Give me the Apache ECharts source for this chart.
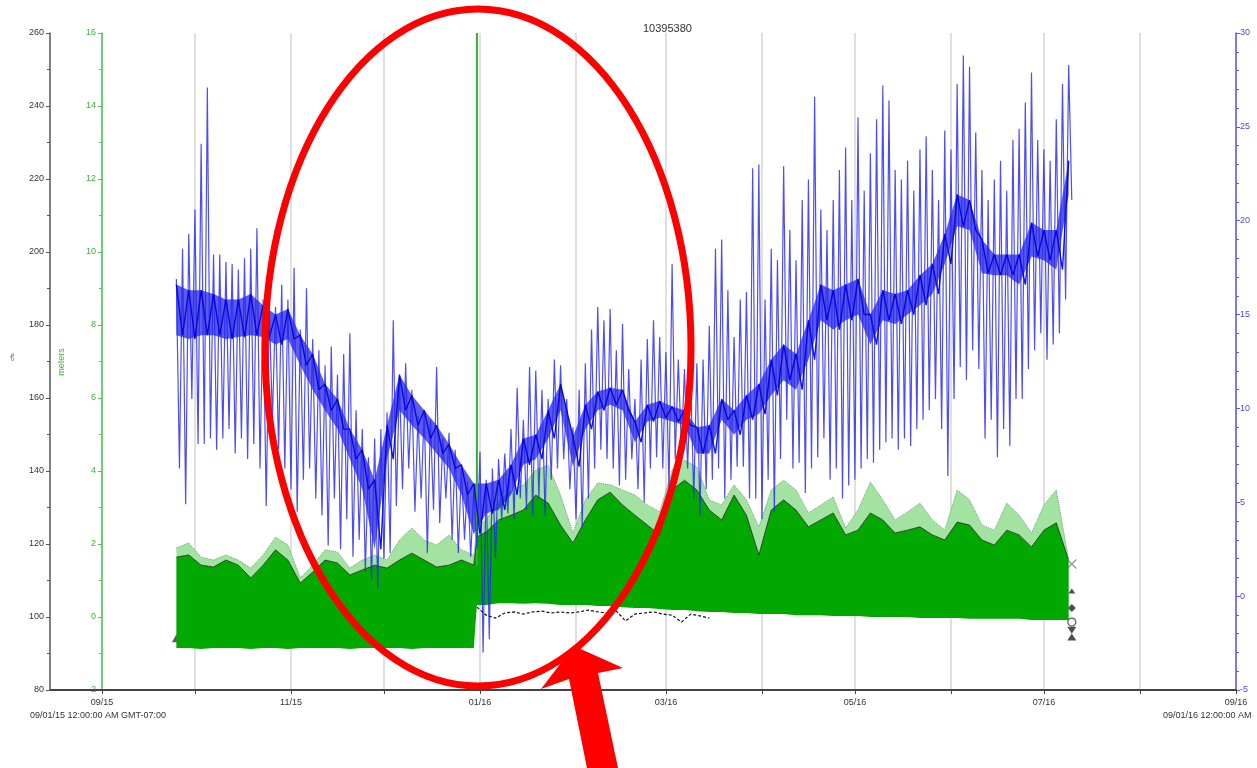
<!DOCTYPE html>
<html>
<head>
<meta charset="utf-8">
<script src="https://cdn.jsdelivr.net/npm/echarts@6.0.0/dist/echarts.min.js"></script>
<style>
html,body{margin:0;padding:0;background:#fff;}
#chart{width:1257px;height:768px;}
</style>
</head>
<body>
<div id="chart"></div>
<script>
// ---------- axis ticks (day index counted from 2015-09-01) ----------
const tickDays   = [0, 61, 122, 182, 243, 304, 366];
const tickLabels = ['09/15', '11/15', '01/16', '03/16', '05/16', '07/16', '09/16'];
const gridDays   = [0, 30, 61, 91, 122, 153, 182, 213, 243, 274, 304, 335, 366];

// ---------- blue series (right axis), one max/min pair every 2 days from day 24 ----------
const BLUE_FIRST_DAY = 24;
const blueMax = [
 16.9,18.5,19.3,20.6,24.1,27.1,18.2,18.2,17.8,17.7,
 17.4,18.0,18.5,19.6,15.8,15.3,15.4,16.6,15.8,17.5,
 14.2,16.4,13.7,13.1,12.3,13.3,11.8,12.9,14.0,9.9,
 8.9,7.4,8.4,8.9,9.8,14.7,11.5,12.4,11.0,9.6,
 9.9,9.4,12.2,8.4,8.7,7.8,6.8,6.1,5.7,7.7,
 6.2,6.8,7.3,7.6,8.9,11.1,9.4,12.2,12.0,11.0,
 10.5,12.6,12.3,10.5,9.0,11.0,12.4,14.2,15.4,14.7,
 15.3,13.1,14.5,12.1,10.5,12.6,13.7,14.7,13.8,13.0,
 17.7,12.6,12.1,11.5,12.4,12.6,14.4,18.5,19.0,16.3,
 13.8,15.8,16.2,22.8,23.0,15.8,18.5,17.9,22.9,19.5,
 17.9,21.1,22.2,26.6,20.6,19.5,21.1,22.7,23.9,21.1,
 25.5,21.6,23.6,25.4,27.2,26.4,22.7,22.2,23.2,21.6,
 23.8,24.5,22.7,21.1,24.8,23.8,27.3,28.8,28.2,24.7,
 22.7,21.1,22.2,23.2,21.6,24.3,24.9,26.3,27.9,24.3,
 23.8,23.2,25.4,27.3,28.3
];
const blueMin = [
 6.8,4.9,10.5,8.1,8.1,8.4,7.8,8.4,8.9,7.6,
 8.4,7.3,8.1,6.8,4.8,9.4,7.8,6.8,5.7,4.5,
 6.2,6.8,5.2,4.3,2.7,5.2,2.5,4.1,2.1,3.0,
 1.3,0.9,0.4,2.0,2.3,4.8,5.7,6.8,4.5,5.2,
 2.3,4.6,3.9,5.2,3.0,2.3,3.0,2.1,2.5,-3.0,
 -2.3,2.0,4.1,4.4,4.1,5.2,4.6,4.3,5.2,4.3,
 6.2,6.8,7.3,5.7,4.1,3.7,5.2,6.8,7.8,7.3,
 6.8,5.9,6.2,7.3,5.7,5.0,6.8,7.4,6.8,5.7,
 7.3,7.8,6.8,5.2,4.3,5.7,6.2,6.8,5.2,6.2,
 6.9,6.9,5.2,5.2,4.1,6.2,4.5,7.3,9.4,6.8,
 7.1,5.5,6.8,7.4,8.4,6.2,6.8,5.2,5.9,6.2,
 6.8,7.3,7.1,7.8,8.2,8.4,7.8,8.4,8.0,8.9,
 9.4,9.9,10.5,8.9,6.4,10.5,12.2,11.5,13.1,12.1,
 8.4,9.4,7.4,8.9,8.0,10.5,10.5,12.1,13.1,14.0,
 12.6,13.4,14.0,15.8,21.1
];
// dense band of the blue trace (upper / lower edge), every 4 days from day 24
const blueBandTop = [
 16.6,16.3,16.3,16.1,15.8,15.8,16.1,15.5,15.0,15.3,
 13.9,12.9,11.3,10.5,8.9,7.8,6.2,9.1,11.8,10.7,
 9.9,9.1,8.1,7.0,6.0,6.0,6.2,7.0,8.4,8.6,
 9.9,11.3,8.5,10.2,10.9,11.1,11.0,9.3,10.2,10.4,
 10.1,9.9,9.0,9.1,10.5,9.9,10.7,11.3,12.6,13.4,
 12.9,14.7,16.6,16.3,16.6,16.9,15.0,16.3,16.1,16.3,
 17.1,17.7,19.3,21.4,21.1,19.0,18.2,18.2,18.2,19.9,
 19.5,19.5,23.2
];
const blueBandBottom = [
 13.9,13.7,13.9,13.9,13.7,13.8,13.9,13.8,13.4,13.7,
 12.3,11.0,9.9,8.9,7.3,5.7,2.5,7.3,9.9,9.1,
 8.4,7.6,6.8,5.4,3.3,4.4,4.6,5.4,7.0,7.3,
 8.4,9.9,6.9,8.9,9.9,10.2,9.9,8.2,9.3,9.5,
 9.3,9.1,7.6,7.6,9.4,8.6,9.4,9.7,10.7,11.5,
 11.0,12.6,14.7,14.2,14.7,15.0,13.4,14.7,14.5,15.0,
 15.5,16.1,17.7,19.7,19.5,17.2,17.1,17.1,16.6,18.1,
 17.9,17.4,21.4
];

// ---------- green series (meters): before 01/16 every 4 days from day 24; after: day 121, then every 4 days from day 124 ----------
const greenLowPre  = [-0.85,-0.85,-0.88,-0.85,-0.85,-0.85,-0.88,-0.85,-0.85,-0.88,-0.85,-0.85,-0.85,-0.85,-0.88,-0.85,-0.85,-0.85,-0.85,-0.88,-0.85,-0.85,-0.85,-0.85,-0.85];
const greenDarkPre = [1.64,1.70,1.42,1.37,1.56,1.42,1.07,1.42,1.84,1.56,0.93,1.23,1.56,1.48,1.15,1.29,1.42,1.34,1.56,1.75,1.56,1.37,1.42,1.56,1.42];
const greenLightPre= [1.89,2.03,1.64,1.56,1.70,1.56,1.34,1.70,2.19,1.97,1.07,1.42,1.84,1.78,1.34,1.56,1.70,1.56,2.11,2.44,2.11,1.97,2.25,1.84,1.70];
const greenLowPost = [0.33,
 0.33,0.38,0.38,0.36,0.38,0.36,0.33,0.33,0.33,0.30,0.30,0.27,0.25,0.25,0.22,0.19,0.19,0.16,0.14,0.14,
 0.11,0.11,0.08,0.08,0.08,0.05,0.05,0.05,0.03,0.03,0.03,0.0,0.0,0.0,0.0,-0.03,-0.03,-0.03,-0.03,-0.05,
 -0.05,-0.05,-0.05,-0.05,-0.08,-0.08,-0.08,-0.08];
const greenDarkPost = [2.19,
 2.33,2.66,2.79,2.93,3.34,3.12,2.52,2.03,2.66,3.21,3.42,3.07,2.79,2.52,2.25,3.48,3.75,3.48,2.93,2.66,
 3.34,2.79,1.70,2.93,3.21,2.93,2.47,2.66,2.85,2.25,2.38,2.85,2.66,2.30,2.38,2.47,2.25,2.11,2.60,2.52,
 2.11,1.97,2.38,2.25,1.92,2.38,2.58,1.56];
const greenLightPost = [2.47,
 2.66,3.21,3.48,3.62,4.03,4.16,3.34,2.30,3.21,3.67,3.62,3.48,3.34,3.07,2.88,4.03,4.30,4.11,3.21,3.07,
 3.62,3.21,2.47,3.48,3.75,3.48,2.85,3.07,3.29,2.44,2.93,3.70,3.21,2.66,2.88,3.12,2.66,2.38,3.48,3.21,
 2.52,2.38,3.12,2.79,2.30,3.07,3.48,1.56];
const greenSpikeDay = 121;
const greenSpikeValues = [1.4, 16];

// ---------- black dashed trace (meters), every 3 days from day 121 ----------
const BLACK_FIRST_DAY = 121;
const blackDashed = [0.27,0.05,-0.03,0.11,0.14,0.08,0.14,0.16,0.11,0.14,0.11,0.14,0.19,0.14,0.11,0.16,-0.11,0.08,0.11,0.14,0.08,0.05,-0.14,0.08,0.03,-0.03];

// ---------- end / start markers (meters) ----------
const endMarkerDay = 313;
const endMarkerValues = [1.45, 0.71, 0.25, -0.14, -0.36, -0.55];
const startMarkerDay = 24;
const startMarkerValue = -0.58;

// ---------- build ----------
const dayLabels = [];
for (let d = 0; d <= 366; d++) {
  const t = new Date(2015, 8, 1 + d);
  dayLabels.push(t.getFullYear() + '-' + String(t.getMonth() + 1).padStart(2, '0') + '-' + String(t.getDate()).padStart(2, '0'));
}

const blueZig = [];
blueMax.forEach((v, i) => {
  blueZig.push([BLUE_FIRST_DAY + 2 * i, v]);
  blueZig.push([BLUE_FIRST_DAY + 2 * i + 1, blueMin[i]]);
});
const bandBaseData = blueBandBottom.map((v, k) => [BLUE_FIRST_DAY + 4 * k, v]);
const bandThickData = blueBandTop.map((v, k) => [BLUE_FIRST_DAY + 4 * k, +(v - blueBandBottom[k]).toFixed(2)]);
const bandZig = [];
blueBandTop.forEach((v, k) => {
  bandZig.push([BLUE_FIRST_DAY + 4 * k, v]);
  if (k < blueBandTop.length - 1) bandZig.push([BLUE_FIRST_DAY + 4 * k + 2, blueBandBottom[k]]);
});

const greenDays = [];
greenLowPre.forEach((_, k) => greenDays.push(24 + 4 * k));
greenDays.push(121);
for (let m = 0; m < greenLowPost.length - 1; m++) greenDays.push(124 + 4 * m);
const gLow = greenLowPre.concat(greenLowPost);
const gDark = greenDarkPre.concat(greenDarkPost);
const gLight = greenLightPre.concat(greenLightPost);

const baseData = greenDays.map((d, k) => [d, gLow[k]]);
const darkData = greenDays.map((d, k) => [d, +(gDark[k] - gLow[k]).toFixed(3)]);
const lightData = greenDays.map((d, k) => [d, +(gLight[k] - gDark[k]).toFixed(3)]);

const blackData = blackDashed.map((v, j) => [BLACK_FIRST_DAY + 3 * j, v]);

const FONT = 'Liberation Sans, Arial, sans-serif';
const crossPath = 'path://M0,1L1,0L5,4L9,0L10,1L6,5L10,9L9,10L5,6L1,10L0,9L4,5Z';
const markerStyles = [
  {symbol: crossPath, symbolSize: 10, itemStyle: {color: '#808080'}},
  {symbol: 'triangle', symbolSize: [7, 5], itemStyle: {color: '#222'}},
  {symbol: 'diamond', symbolSize: 8, itemStyle: {color: '#222'}},
  {symbol: 'circle', symbolSize: 8, itemStyle: {color: '#fff', borderColor: '#333', borderWidth: 1.2}},
  {symbol: 'triangle', symbolRotate: 180, symbolSize: [9, 7], itemStyle: {color: '#222'}},
  {symbol: 'triangle', symbolSize: [9, 7], itemStyle: {color: '#222'}}
];
const markerData = endMarkerValues.map((v, i) => Object.assign({value: [endMarkerDay, v]}, markerStyles[i]));
markerData.push({value: [startMarkerDay, startMarkerValue], symbol: 'triangle', symbolSize: [9, 8], itemStyle: {color: '#333'}});

const BLUE = 'rgba(38,38,242,0.82)';
const BAND_FILL = 'rgba(5,5,228,0.66)';
const BAND_LINE = 'rgba(0,0,222,0.92)';

const chart = echarts.init(document.getElementById('chart'), null, {renderer: 'canvas'});
chart.setOption({
  animation: false,
  backgroundColor: '#fff',
  textStyle: {fontFamily: FONT},
  title: {text: '10395380', left: 638, top: 18, textStyle: {fontSize: 11, fontWeight: 'normal', color: '#333', fontFamily: FONT}},
  grid: {left: 102, right: 21, top: 33, bottom: 78, containLabel: false},
  xAxis: {
    type: 'category', data: dayLabels, boundaryGap: false,
    axisLine: {onZero: false, lineStyle: {color: '#444', width: 2}},
    axisTick: {show: true, interval: (i) => gridDays.includes(i), length: 4, lineStyle: {color: '#444'}},
    axisLabel: {interval: (i) => tickDays.includes(i), formatter: (v, i) => { const k = tickDays.indexOf(i); return k >= 0 ? tickLabels[k] : ''; }, fontSize: 9, color: '#333', margin: 8, fontFamily: FONT},
    splitLine: {show: true, interval: (i) => gridDays.includes(i), lineStyle: {color: '#d6d6d6', width: 1.5}}
  },
  yAxis: [
    {type: 'value', min: 80, max: 260, interval: 20, position: 'left', offset: 52,
     axisLine: {show: true, lineStyle: {color: '#555', width: 1.5}},
     axisTick: {show: true, length: 4, lineStyle: {color: '#555'}},
     minorTick: {show: true, splitNumber: 2, length: 3, lineStyle: {color: '#555'}},
     axisLabel: {fontSize: 9, color: '#333', margin: 6, fontFamily: FONT},
     splitLine: {show: false}},
    {type: 'value', min: -2, max: 16, interval: 2, position: 'left', offset: 0,
     axisLine: {show: true, lineStyle: {color: '#55c455', width: 1.5}},
     axisTick: {show: true, length: 4, lineStyle: {color: '#55c455'}},
     minorTick: {show: true, splitNumber: 2, length: 3, lineStyle: {color: '#55c455'}},
     axisLabel: {fontSize: 9, color: '#3cb43c', margin: 6, fontFamily: FONT},
     splitLine: {show: false}},
    {type: 'value', min: -5, max: 30, interval: 5, position: 'right', offset: 0,
     axisLine: {show: true, lineStyle: {color: '#5a5af0', width: 1.5}},
     axisTick: {show: true, length: 4, lineStyle: {color: '#5a5af0'}},
     minorTick: {show: true, splitNumber: 5, length: 3, lineStyle: {color: '#5a5af0'}},
     axisLabel: {fontSize: 9, color: '#4a4ae8', margin: 4, fontFamily: FONT},
     splitLine: {show: false}}
  ],
  series: [
    {name: 'gBase', type: 'line', yAxisIndex: 1, stack: 'g', stackStrategy: 'all', data: baseData,
     symbol: 'none', lineStyle: {width: 0, opacity: 0}, silent: true},
    {name: 'gDark', type: 'line', yAxisIndex: 1, stack: 'g', stackStrategy: 'all', data: darkData,
     symbol: 'none', lineStyle: {color: 'rgba(20,20,20,0.75)', width: 1}, areaStyle: {color: '#00a800', opacity: 1}, silent: true},
    {name: 'gLight', type: 'line', yAxisIndex: 1, stack: 'g', stackStrategy: 'all', data: lightData,
     symbol: 'none', lineStyle: {color: '#7c9c7c', width: 1, type: 'dotted'}, areaStyle: {color: '#a2e3a2', opacity: 1}, silent: true},
    {name: 'gSpike', type: 'line', yAxisIndex: 1, data: greenSpikeValues.map(v => [greenSpikeDay, v]),
     symbol: 'none', lineStyle: {color: '#2eb02e', width: 2}, silent: true},
    {name: 'bandBase', type: 'line', yAxisIndex: 2, stack: 'b', stackStrategy: 'all', data: bandBaseData,
     symbol: 'none', lineStyle: {width: 0, opacity: 0}, silent: true},
    {name: 'bandThick', type: 'line', yAxisIndex: 2, stack: 'b', stackStrategy: 'all', data: bandThickData,
     symbol: 'none', lineStyle: {width: 0, opacity: 0}, areaStyle: {color: BAND_FILL, opacity: 1}, silent: true},
    {name: 'blue', type: 'line', yAxisIndex: 2, data: blueZig,
     symbol: 'none', lineStyle: {color: BLUE, width: 1.2}, silent: true},
    {name: 'bandZig', type: 'line', yAxisIndex: 2, data: bandZig,
     symbol: 'none', lineStyle: {color: BAND_LINE, width: 1.4}, silent: true},
    {name: 'black', type: 'line', yAxisIndex: 1, data: blackData,
     symbol: 'none', lineStyle: {color: '#111', width: 1.2, type: [3, 2]}, silent: true},
    {name: 'markers', type: 'scatter', yAxisIndex: 1, data: markerData, silent: true, clip: false}
  ],
  graphic: [
    {type: 'line', shape: {x1: 50, y1: 690, x2: 102, y2: 690}, style: {stroke: '#444', lineWidth: 2}, z: 5},
    {type: 'text', x: 30, y: 716, style: {text: '09/01/15 12:00:00 AM GMT-07:00', fontSize: 9, fill: '#333', fontFamily: FONT, textVerticalAlign: 'middle'}},
    {type: 'text', x: 1163, y: 716, style: {text: '09/01/16 12:00:00 AM', fontSize: 9, fill: '#333', fontFamily: FONT, textVerticalAlign: 'middle'}},
    {type: 'text', x: 12, y: 357, rotation: Math.PI / 2, style: {text: 'cfs', fontSize: 6, fill: '#555', fontFamily: FONT, textAlign: 'center', textVerticalAlign: 'middle'}},
    {type: 'text', x: 62, y: 362, rotation: Math.PI / 2, style: {text: 'meters', fontSize: 9, fill: '#3cb43c', fontFamily: FONT, textAlign: 'center', textVerticalAlign: 'middle'}},
    {type: 'ellipse', shape: {cx: 478, cy: 347.5, rx: 213, ry: 338.5}, style: {fill: 'none', stroke: '#ff0000', lineWidth: 7}, z: 100},
    {type: 'polygon', shape: {points: [[574, 646], [623, 668], [598, 673], [618, 768], [587, 768], [569, 679], [541, 689]]}, style: {fill: '#ff0000'}, z: 100}
  ]
});
</script>
</body>
</html>
